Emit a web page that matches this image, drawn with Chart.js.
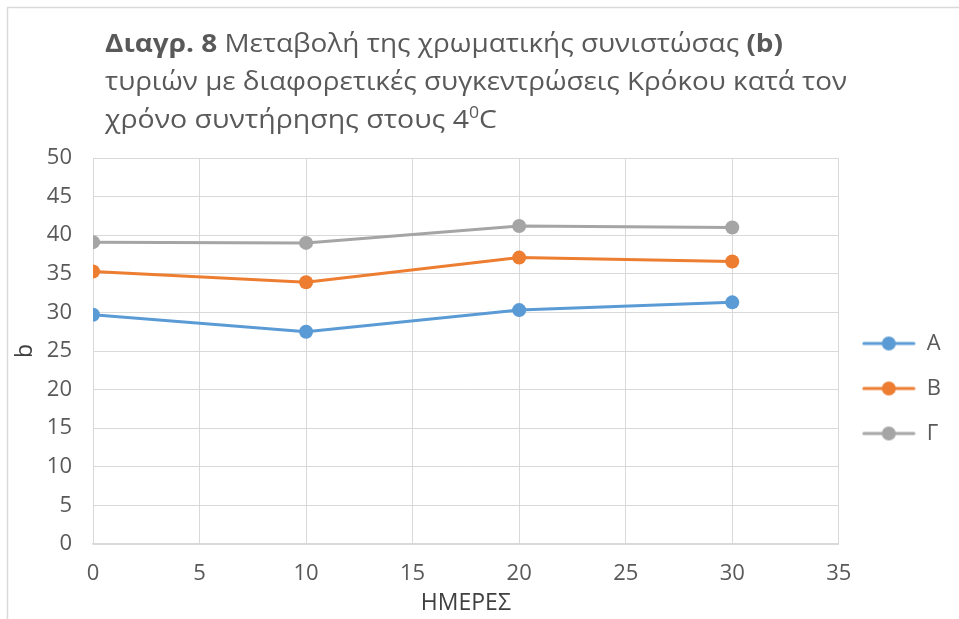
<!DOCTYPE html>
<html>
<head>
<meta charset="utf-8">
<script src="https://cdn.jsdelivr.net/npm/chart.js@4"></script>
<style>
  html, body { margin: 0; padding: 0; background: #fff; }
  canvas { display: block; }
</style>
</head>
<body>
<canvas id="chart" width="959" height="619"></canvas>
<script>
// days of storage
const days = [0, 10, 20, 30];
const seriesNames = ['Α', 'Β', 'Γ'];
const valuesA = [29.7, 27.5, 30.3, 31.3];
const valuesB = [35.3, 33.9, 37.1, 36.6];
const valuesG = [39.1, 39.0, 41.2, 41.0];
const xTicks = [0, 5, 10, 15, 20, 25, 30, 35];
const yTicks = [0, 5, 10, 15, 20, 25, 30, 35, 40, 45, 50];

const colors = ['#5b9bd5', '#ed7d31', '#a5a5a5'];
const textColor = '#595959';
const gridColor = '#d9d9d9';
const FONT = "'Open Sans', sans-serif";

// legend icon: short line with a marker in the middle
const legendIcon = (color) => {
  const c = document.createElement('canvas');
  c.width = 54; c.height = 16;
  const g = c.getContext('2d');
  g.strokeStyle = color;
  g.lineWidth = 3;
  g.lineCap = 'round';
  g.beginPath(); g.moveTo(2, 8); g.lineTo(52, 8); g.stroke();
  g.fillStyle = color;
  g.beginPath(); g.arc(27, 8, 7, 0, Math.PI * 2); g.fill();
  return c;
};

const toPoints = (vals) => vals.map((v, i) => ({ x: days[i], y: v }));

const titleLines = [
  { w: 678, parts: [['Διαγρ. 8', true], [' Μεταβολή της χρωματικής συνιστώσας ', false], ['(b)', true]] },
  { w: 742, parts: [['τυριών με διαφορετικές συγκεντρώσεις Κρόκου κατά τον', false]] },
  { w: 392, parts: [['χρόνο συντήρησης στους 4', false], ['0', false, true], ['C', false]] },
];

const frameAndTitle = {
  id: 'frameAndTitle',
  beforeDraw(chart) {
    const ctx = chart.ctx;
    ctx.save();
    ctx.fillStyle = '#fff';
    ctx.fillRect(0, 0, chart.width, chart.height);
    ctx.strokeStyle = gridColor;
    ctx.lineWidth = 1.5;
    ctx.strokeRect(7.5, 7.5, chart.width + 20, chart.height + 20);
    ctx.restore();
  },
  afterDraw(chart) {
    const ctx = chart.ctx;
    const size = 25;
    ctx.save();
    ctx.fillStyle = textColor;
    ctx.textBaseline = 'alphabetic';
    titleLines.forEach((line, li) => {
      const fontOf = (p) => (p[1] ? 'bold ' : '') + (p[2] ? size * 0.62 : size) + 'px ' + FONT;
      let total = 0;
      line.parts.forEach(p => { ctx.font = fontOf(p); total += ctx.measureText(p[0]).width; });
      const sx = line.w / total;
      const baseY = 52 + li * 38;
      ctx.save();
      ctx.translate(105, baseY);
      ctx.scale(sx, 1);
      let x = 0;
      line.parts.forEach(p => {
        ctx.font = fontOf(p);
        ctx.fillText(p[0], x, p[2] ? -size * 0.42 : 0);
        x += ctx.measureText(p[0]).width;
      });
      ctx.restore();
    });
    ctx.restore();
  }
};

const datasets = [valuesA, valuesB, valuesG].map((vals, i) => ({
  label: seriesNames[i],
  data: toPoints(vals),
  borderColor: colors[i],
  backgroundColor: colors[i],
  borderWidth: 3,
  pointRadius: 7,
  pointHoverRadius: 7,
  pointBorderWidth: 0,
  pointStyle: 'circle',
  showLine: true,
  tension: 0,
}));

new Chart(document.getElementById('chart'), {
  type: 'scatter',
  data: { datasets },
  options: {
    responsive: false,
    animation: false,
    layout: { padding: { top: 158, left: 7, right: 8, bottom: 0 } },
    plugins: {
      title: { display: false },
      tooltip: { enabled: false },
      legend: {
        position: 'right',
        labels: {
          color: textColor,
          font: { family: FONT, size: 22 },
          usePointStyle: true,
          pointStyleWidth: 54,
          padding: 23,
          generateLabels: (chart) => chart.data.datasets.map((ds, i) => ({
            text: ds.label,
            fillStyle: ds.borderColor,
            strokeStyle: ds.borderColor,
            fontColor: textColor,
            pointStyle: legendIcon(ds.borderColor),
            lineWidth: 0,
            datasetIndex: i,
            hidden: false,
          })),
        },
      },
    },
    scales: {
      x: {
        type: 'linear',
        min: 0,
        max: 35,
        afterBuildTicks: (s) => { s.ticks = xTicks.map(v => ({ value: v })); },
        afterFit: (s) => { s.height = 75; },
        grid: { color: gridColor, drawTicks: false },
        border: { color: gridColor, width: 1.5 },
        ticks: { color: textColor, font: { family: FONT, size: 22 }, padding: 17 },
        title: {
          display: true,
          text: 'ΗΜΕΡΕΣ',
          color: '#404040',
          font: { family: FONT, size: 23 },
          padding: { top: 0, bottom: 2 },
        },
      },
      y: {
        type: 'linear',
        min: 0,
        max: 50,
        afterBuildTicks: (s) => { s.ticks = yTicks.map(v => ({ value: v })); },
        afterFit: (s) => { s.width = 86; },
        grid: { color: gridColor, drawTicks: false },
        border: { display: false },
        ticks: { color: textColor, font: { family: FONT, size: 22 }, padding: 21 },
        title: {
          display: true,
          text: 'b',
          color: '#404040',
          font: { family: FONT, size: 23 },
          padding: { top: 5, bottom: 0 },
        },
      },
    },
  },
  plugins: [frameAndTitle],
});
</script>
</body>
</html>
